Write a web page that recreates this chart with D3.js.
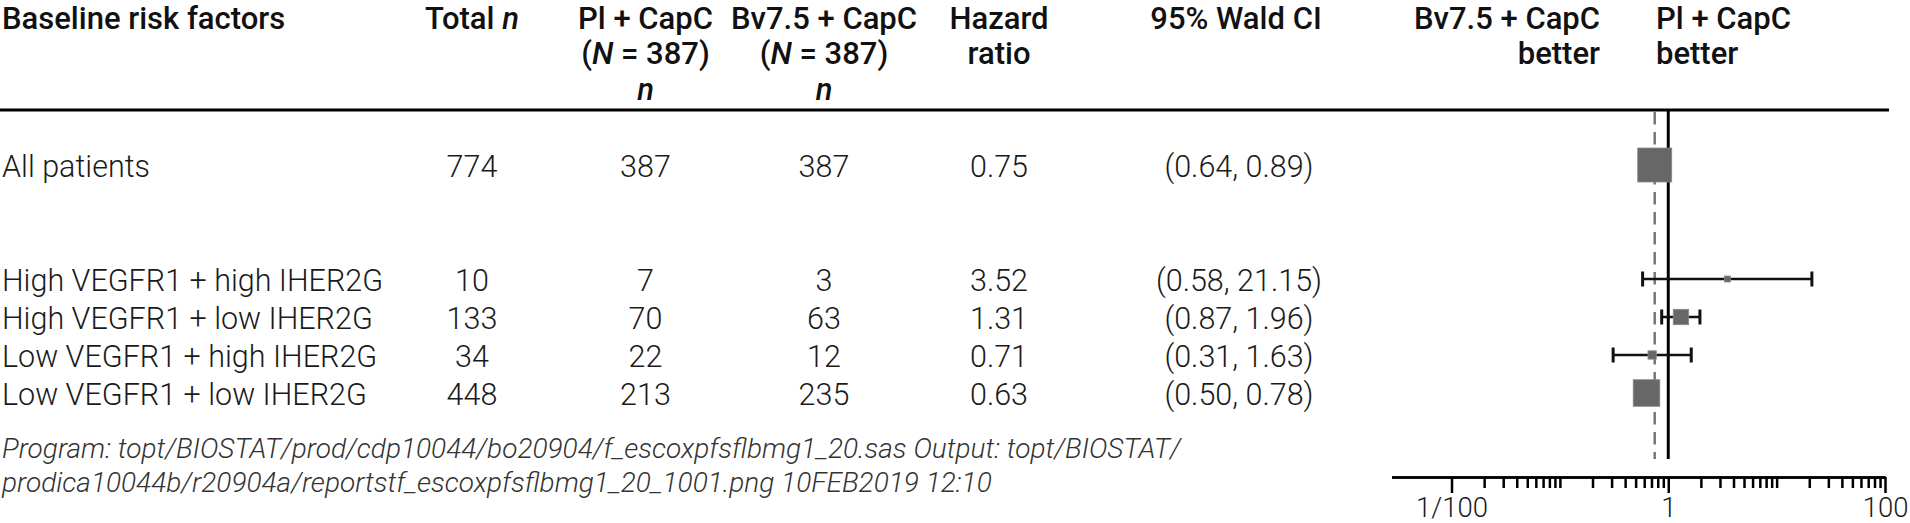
<!DOCTYPE html>
<html>
<head>
<meta charset="utf-8">
<script src="https://cdn.jsdelivr.net/npm/d3@7"></script>
<style>
  html, body { margin: 0; padding: 0; background: #fff; }
  svg { display: block; }
  .hd { font-family: Roboto, 'Noto Sans', sans-serif; font-weight: 500; font-size: 31px; fill: #111; }
  .bd { font-family: Roboto, 'Noto Sans', sans-serif; font-weight: 300; font-size: 30.5px; fill: #1a1a1a; }
  .ft { font-family: Roboto, 'Noto Sans', sans-serif; font-weight: 300; font-style: italic; font-size: 28px; fill: #333; }
</style>
</head>
<body>
<div id="chart"></div>
<script>
// ── Data ──
const labels = ['All patients', 'High VEGFR1 + high IHER2G', 'High VEGFR1 + low IHER2G',
                'Low VEGFR1 + high IHER2G', 'Low VEGFR1 + low IHER2G'];
const rowSlot = [0, 3, 4, 5, 6];
const totalN = [774, 10, 133, 34, 448];
const plN = [387, 7, 70, 22, 213];
const bvN = [387, 3, 63, 12, 235];
const hr = [0.75, 3.52, 1.31, 0.71, 0.63];
const ciLow = [0.64, 0.58, 0.87, 0.31, 0.50];
const ciHigh = [0.89, 21.15, 1.96, 1.63, 0.78];
const majorTicks = [0.01, 1, 100];
const majorLabels = ['1/100', '1', '100'];
const footer = ['Program: topt/BIOSTAT/prod/cdp10044/bo20904/f_escoxpfsflbmg1_20.sas Output: topt/BIOSTAT/',
                'prodica10044b/r20904a/reportstf_escoxpfsflbmg1_20_1001.png 10FEB2019 12:10'];

const W = 1910, H = 523;
const svg = d3.select('#chart').append('svg').attr('width', W).attr('height', H);

// ── Scales ──
const x = d3.scaleLog().domain([0.0028, 100]).range([1391.6, 1885]);
const y = d3.scaleLinear().domain([0, 6]).range([165, 393]);
const box = d3.scalePow().exponent(0.45).domain([0, d3.max(totalN)]).range([0, 34]);
const axisY = 477;

// ── Header ──
const cols = [472, 645.5, 824, 999, 1239];
const hdRows = [29, 64, 100];

function hdText(xp, yp, anchor, parts) {
  const t = svg.append('text').attr('class', 'hd').attr('x', xp).attr('y', yp).attr('text-anchor', anchor);
  parts.forEach(p => {
    t.append('tspan').style('font-style', p[1] ? 'italic' : null).text(p[0]);
  });
}
hdText(2, hdRows[0], 'start', [['Baseline risk factors']]);
hdText(cols[0], hdRows[0], 'middle', [['Total '], ['n', 1]]);
hdText(cols[1], hdRows[0], 'middle', [['Pl + CapC']]);
hdText(cols[1], hdRows[1], 'middle', [['('], ['N', 1], [' = 387)']]);
hdText(cols[1], hdRows[2], 'middle', [['n', 1]]);
hdText(cols[2], hdRows[0], 'middle', [['Bv7.5 + CapC']]);
hdText(cols[2], hdRows[1], 'middle', [['('], ['N', 1], [' = 387)']]);
hdText(cols[2], hdRows[2], 'middle', [['n', 1]]);
hdText(cols[3], hdRows[0], 'middle', [['Hazard']]);
hdText(cols[3], hdRows[1], 'middle', [['ratio']]);
hdText(1236, hdRows[0], 'middle', [['95% Wald CI']]);
hdText(1600, hdRows[0], 'end', [['Bv7.5 + CapC']]);
hdText(1600, hdRows[1], 'end', [['better']]);
hdText(1656, hdRows[0], 'start', [['Pl + CapC']]);
hdText(1656, hdRows[1], 'start', [['better']]);

svg.append('line').attr('x1', 0).attr('x2', 1889).attr('y1', 110).attr('y2', 110)
  .attr('stroke', '#000').attr('stroke-width', 3);

// ── Table body ──
const rows = labels.map((l, i) => ({
  label: l, slot: rowSlot[i], n: totalN[i], pl: plN[i], bv: bvN[i],
  hr: hr[i], lo: ciLow[i], hi: ciHigh[i]
}));

const rowG = svg.selectAll('.row').data(rows).enter().append('g')
  .attr('transform', d => 'translate(0,' + y(d.slot) + ')');
rowG.append('text').attr('class', 'bd').attr('x', 2).attr('dy', '0.38em').text(d => d.label);
rowG.append('text').attr('class', 'bd').attr('x', cols[0]).attr('dy', '0.38em').attr('text-anchor', 'middle').text(d => d.n);
rowG.append('text').attr('class', 'bd').attr('x', cols[1]).attr('dy', '0.38em').attr('text-anchor', 'middle').text(d => d.pl);
rowG.append('text').attr('class', 'bd').attr('x', cols[2]).attr('dy', '0.38em').attr('text-anchor', 'middle').text(d => d.bv);
rowG.append('text').attr('class', 'bd').attr('x', cols[3]).attr('dy', '0.38em').attr('text-anchor', 'middle').text(d => d.hr.toFixed(2));
rowG.append('text').attr('class', 'bd').attr('x', cols[4]).attr('dy', '0.38em').attr('text-anchor', 'middle')
  .text(d => '(' + d.lo.toFixed(2) + ', ' + d.hi.toFixed(2) + ')');

// ── Footer ──
footer.forEach((f, i) => {
  svg.append('text').attr('class', 'ft').attr('x', 2).attr('y', 458 + i * 34).text(f);
});

// ── Reference lines ──
svg.append('line').attr('x1', x(hr[0])).attr('x2', x(hr[0])).attr('y1', 112).attr('y2', 459)
  .attr('stroke', '#777').attr('stroke-width', 2.5).attr('stroke-dasharray', '12.5,7.5');
svg.append('line').attr('x1', x(1)).attr('x2', x(1)).attr('y1', 111).attr('y2', 459)
  .attr('stroke', '#000').attr('stroke-width', 3);

// ── CI whiskers and boxes ──
const capH = 15;
const ci = svg.selectAll('.ci').data(rows).enter().append('g')
  .attr('transform', d => 'translate(0,' + y(d.slot) + ')');
ci.append('line').attr('x1', d => x(d.lo)).attr('x2', d => x(d.hi))
  .attr('stroke', '#111').attr('stroke-width', 2.7);
ci.append('line').attr('x1', d => x(d.lo)).attr('x2', d => x(d.lo)).attr('y1', -capH / 2).attr('y2', capH / 2)
  .attr('stroke', '#111').attr('stroke-width', 3);
ci.append('line').attr('x1', d => x(d.hi)).attr('x2', d => x(d.hi)).attr('y1', -capH / 2).attr('y2', capH / 2)
  .attr('stroke', '#111').attr('stroke-width', 3);
ci.append('rect')
  .attr('x', d => x(d.hr) - Math.max(6, box(d.n)) / 2)
  .attr('y', d => -Math.max(6, box(d.n)) / 2)
  .attr('width', d => Math.max(6, box(d.n)))
  .attr('height', d => Math.max(6, box(d.n)))
  .attr('fill', '#676767').attr('stroke', '#8a8a8a').attr('stroke-width', 0.8);

// ── Log axis ──
const minorTicks = [];
[-2, -1, 0, 1].forEach(e => {
  for (let m = 2; m <= 10; m++) {
    const v = m * Math.pow(10, e);
    if (!majorTicks.some(t => Math.abs(t - v) / t < 1e-9)) minorTicks.push(v);
  }
});

const gMinor = svg.append('g').attr('transform', 'translate(0,' + axisY + ')')
  .call(d3.axisBottom(x).tickValues(minorTicks).tickSize(11).tickSizeOuter(0).tickFormat(''));
const gMajor = svg.append('g').attr('transform', 'translate(0,' + axisY + ')')
  .call(d3.axisBottom(x).tickValues(majorTicks).tickSize(16).tickSizeOuter(0).tickPadding(4)
    .tickFormat((d, i) => majorLabels[i]));
[gMinor, gMajor].forEach(g => {
  g.select('.domain').attr('stroke', '#000').attr('stroke-width', 2.5);
  g.selectAll('.tick line').attr('stroke', '#000').attr('stroke-width', 2.5);
});
gMajor.selectAll('.tick text')
  .attr('fill', '#1a1a1a')
  .style('font-family', 'Roboto, "Noto Sans", sans-serif')
  .style('font-weight', 300)
  .style('font-size', '27.5px');
</script>
</body>
</html>
